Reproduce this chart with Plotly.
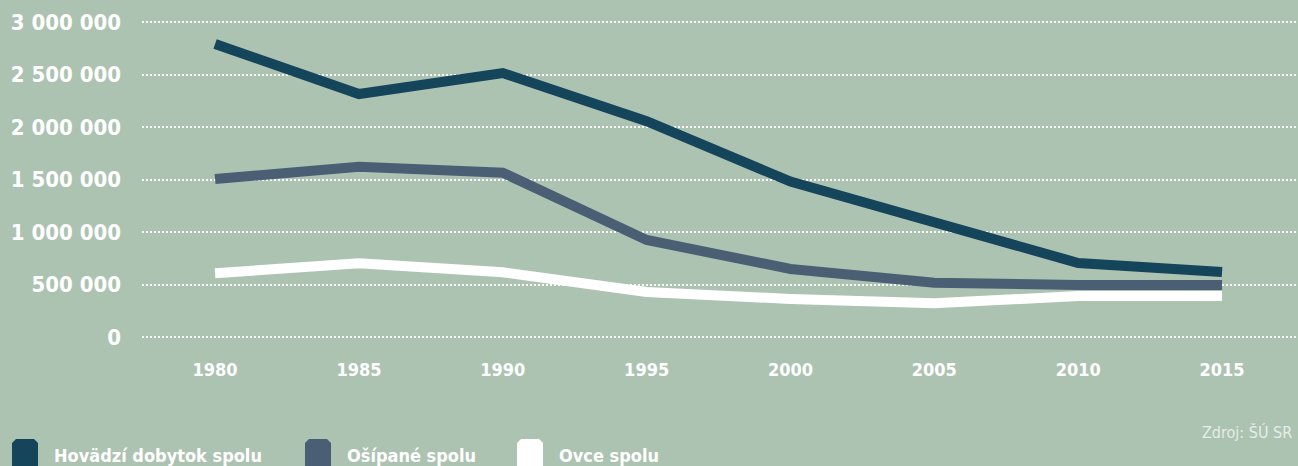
import plotly.graph_objects as go

years = [1980, 1985, 1990, 1995, 2000, 2005, 2010, 2015]
hovadzi = [2790000, 2314000, 2514000, 2055000, 1480000, 1095000, 705000, 619000]
osipane = [1505000, 1622000, 1565000, 924000, 648000, 517000, 495000, 495000]
ovce = [607000, 702000, 616000, 429000, 362000, 321000, 390000, 390000]
series_names = ["Hovädzí dobytok spolu", "Ošípané spolu", "Ovce spolu"]
series_colors = ["#15455a", "#4b5f74", "#ffffff"]
y_ticks = [0, 500000, 1000000, 1500000, 2000000, 2500000, 3000000]
source_text = "Zdroj: ŠÚ SR"

BG = "#adc3b2"
FONT = "DejaVu Sans Condensed, Roboto, sans-serif"

W, H = 1298, 466
ML, MR, MT, MB = 142, 0, 20, 127
PW, PH = W - ML - MR, H - MT - MB
YPAD = 3e6 * 2 / 315


def px(x):
    return (x - ML) / PW


def py(y):
    return (H - MB - y) / PH


fig = go.Figure()
for name, vals, col in zip(series_names, [hovadzi, osipane, ovce], series_colors):
    fig.add_trace(go.Scatter(x=years, y=vals, mode="lines", name=name,
                             line=dict(color=col, width=10), showlegend=False))

# manual legend
leg_x = [12, 305, 517]
for xpx, name, col in zip(leg_x, series_names, series_colors):
    x0, x1 = px(xpx), px(xpx + 26)
    y0, y1 = py(470), py(439)
    c = 4 / PW
    cy = 4 / PH
    path = (f"M {x0} {y0} L {x1} {y0} L {x1} {y1 - cy} L {x1 - c} {y1} "
            f"L {x0 + c} {y1} L {x0} {y1 - cy} Z")
    fig.add_shape(type="path", path=path, xref="paper", yref="paper",
                  fillcolor=col, line=dict(width=0), layer="above")
    fig.add_annotation(x=px(xpx + 40), y=py(455), xref="paper", yref="paper",
                       text=name, showarrow=False, xanchor="left", yanchor="middle",
                       font=dict(family=FONT, size=18, color="white", weight="bold"))

fig.add_annotation(x=px(1294), y=py(432), xref="paper", yref="paper",
                   text=source_text, showarrow=False, xanchor="right", yanchor="middle",
                   font=dict(family=FONT, size=16, color="#e6ede7"))

fig.update_layout(
    width=W, height=H,
    paper_bgcolor=BG, plot_bgcolor=BG,
    margin=dict(l=ML, r=MR, t=MT, b=MB),
    separators=", ",
    xaxis=dict(range=[1977.46, 2017.64], tickvals=years, ticktext=[str(y) for y in years],
               showgrid=False, zeroline=False, showline=False, ticks="",
               tickfont=dict(family=FONT, size=18, color="white", weight="bold"),
               ticklabelstandoff=18),
    yaxis=dict(range=[-YPAD, 3e6 + YPAD], tickvals=y_ticks, tickformat=",d",
               showgrid=True, gridcolor="white", griddash="2px,2px", gridwidth=2,
               zeroline=False, showline=False, ticks="",
               tickfont=dict(family=FONT, size=22, color="white", weight="bold"),
               ticklabelstandoff=20),
)
fig.write_html("out.html", config={"displayModeBar": False},
               post_script="document.body.style.margin='0px';")
